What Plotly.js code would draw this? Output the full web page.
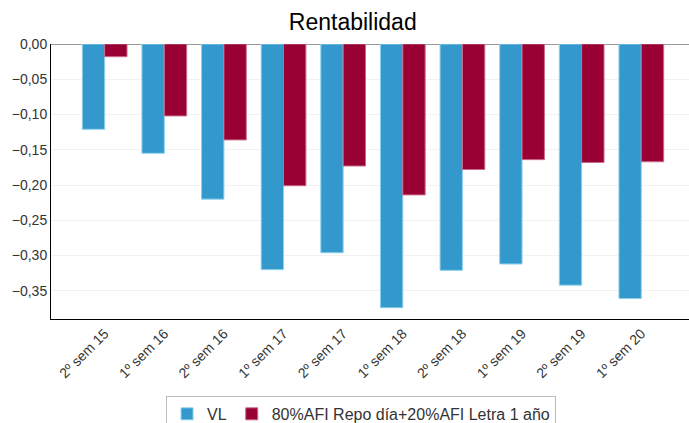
<!DOCTYPE html>
<html>
<head>
<meta charset="utf-8">
<script src="https://cdn.plot.ly/plotly-3.0.1.min.js"></script>
<style>html,body{margin:0;padding:0;background:#fff;}#chart{width:689px;height:423px;}</style>
</head>
<body>
<div id="chart"></div>
<script>
var categories = ["2º sem 15","1º sem 16","2º sem 16","1º sem 17","2º sem 17","1º sem 18","2º sem 18","1º sem 19","2º sem 19","1º sem 20"];
var vlValues = [-0.121,-0.155,-0.220,-0.320,-0.296,-0.374,-0.321,-0.312,-0.342,-0.361];
var benchValues = [-0.018,-0.102,-0.136,-0.201,-0.173,-0.214,-0.178,-0.164,-0.168,-0.167];
var yTicks = [0,-0.05,-0.10,-0.15,-0.20,-0.25,-0.30,-0.35];
var seriesNames = ["VL","80%AFI Repo día+20%AFI Letra 1 año"];

var font = "Liberation Sans, Arial, sans-serif";
var traces = [
  {type:"bar", name:seriesNames[0], x:categories, y:vlValues,
   marker:{color:"#3399cc", line:{color:"#8fd0ee", width:1}}},
  {type:"bar", name:seriesNames[1], x:categories, y:benchValues,
   marker:{color:"#990033", line:{color:"#c86a8a", width:1}}}
];
var layout = {
  width:689, height:423,
  margin:{l:51, r:0, t:44, b:104},
  paper_bgcolor:"#fff", plot_bgcolor:"#fff",
  separators:",.",
  barmode:"group", bargap:0.25, bargroupgap:0,
  font:{family:font, size:14, color:"#333"},
  title:{text:"Rentabilidad", xref:"container", x:0.512, xanchor:"center",
         yref:"container", y:0.948, yanchor:"middle",
         font:{family:font, size:23, color:"#000"}},
  xaxis:{type:"category", range:[-0.9,9.8], tickangle:-45, showline:true, linecolor:"#000", linewidth:1,
         showgrid:false, ticks:"", automargin:false, tickfont:{family:font, size:14, color:"#333"}, fixedrange:true},
  yaxis:{range:[-0.39,0], tickvals:yTicks, tickformat:".2f", showline:true, linecolor:"#000", linewidth:1,
         gridcolor:"#f2f2f2", zeroline:true, zerolinecolor:"#999", zerolinewidth:1, automargin:false,
         ticks:"", ticklen:0, tickfont:{family:font, size:14, color:"#333"}, fixedrange:true},
  showlegend:true,
  legend:{orientation:"h", xref:"container", x:0.241, xanchor:"left", yref:"container", y:0.064, yanchor:"top",
          bordercolor:"#bbb", borderwidth:1, bgcolor:"#fff", itemwidth:30,
          font:{family:font, size:16, color:"#333"}, traceorder:"normal"}
};
Plotly.newPlot("chart", traces, layout, {displayModeBar:false, staticPlot:true});
</script>
</body>
</html>
